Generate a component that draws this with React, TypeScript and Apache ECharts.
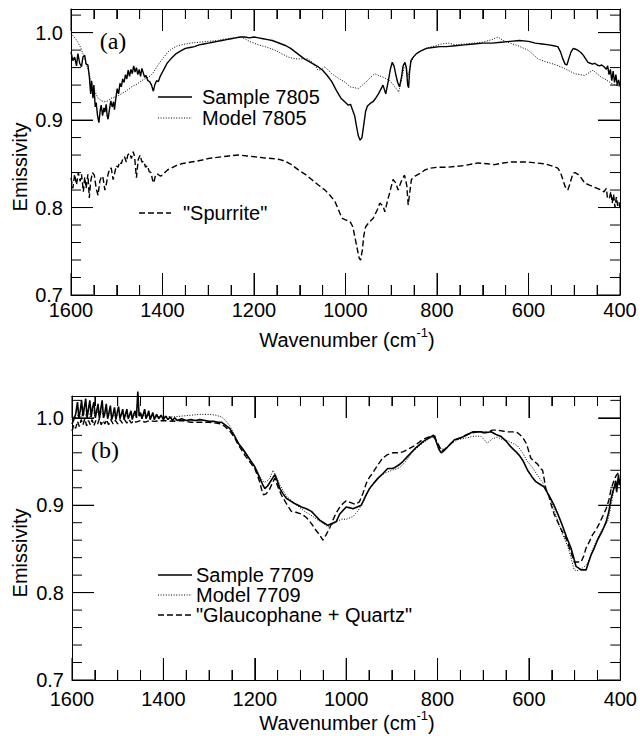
import React, { useEffect, useRef } from 'react';
import * as echarts from 'echarts';

const FONT = '"Liberation Sans", Arial, Helvetica, sans-serif';
const SERIF = '"Liberation Serif", "Times New Roman", serif';

// axes (wavenumber in cm-1, emissivity)
const xMin = 400;
const xMax = 1600;
const xMajorStep = 200;
const xMinorSplit = 4;
const xMajorTicks = [400, 600, 800, 1000, 1200, 1400, 1600];
const xMinorTicks = [450, 500, 550, 650, 700, 750, 850, 900, 950, 1050, 1100, 1150, 1250, 1300, 1350, 1450, 1500, 1550];
const yMin = 0.7;
const yMajorStep = 0.1;
const yMajorTicks = [0.7, 0.8, 0.9, 1.0];
const yMinorTicks = [0.72, 0.74, 0.76, 0.78, 0.82, 0.84, 0.86, 0.88, 0.92, 0.94, 0.96, 0.98, 1.02];
const yMaxA = 1.027;
const yMaxB = 1.025;

// Panel (a)
const sample7805: [number, number][] = [
  [1600,0.978],[1596,0.968],[1592,0.972],[1588,0.962],[1585,0.976],[1581,0.965],[1577,0.961],[1574,0.972],[1570,0.974],[1567,0.964],[1563,0.963],[1560,0.950],[1557,0.930],[1555,0.945],[1552,0.925],[1550,0.940],[1547,0.915],[1545,0.920],[1542,0.905],[1539,0.897],[1536,0.912],[1534,0.917],[1531,0.905],[1528,0.914],[1526,0.909],[1523,0.918],[1521,0.905],[1519,0.901],[1516,0.912],[1513,0.922],[1510,0.915],[1507,0.921],[1505,0.912],[1502,0.925],[1499,0.936],[1496,0.930],[1493,0.942],[1490,0.938],[1487,0.947],[1484,0.943],[1481,0.952],[1478,0.947],[1475,0.957],[1472,0.950],[1469,0.958],[1466,0.953],[1463,0.962],[1460,0.955],[1457,0.960],[1454,0.952],[1451,0.958],[1448,0.950],[1445,0.959],[1442,0.954],[1439,0.949],[1436,0.951],[1432,0.945],[1428,0.944],[1424,0.940],[1420,0.933],[1417,0.940],[1413,0.945],[1409,0.944],[1405,0.950],[1400,0.955],[1395,0.960],[1390,0.965],[1385,0.968],[1380,0.971],[1370,0.976],[1360,0.979],[1350,0.982],[1340,0.983],[1330,0.984],[1320,0.986],[1310,0.987],[1300,0.988],[1290,0.989],[1280,0.990],[1270,0.991],[1260,0.992],[1250,0.993],[1240,0.994],[1230,0.995],[1220,0.995],[1210,0.994],[1200,0.995],[1190,0.994],[1180,0.993],[1170,0.992],[1160,0.991],[1150,0.989],[1140,0.987],[1130,0.985],[1120,0.982],[1110,0.978],[1100,0.974],[1090,0.970],[1080,0.967],[1070,0.964],[1060,0.961],[1050,0.957],[1040,0.951],[1030,0.944],[1020,0.934],[1010,0.925],[1000,0.920],[994,0.917],[989,0.918],[985,0.912],[980,0.905],[976,0.893],[972,0.882],[968,0.877],[964,0.880],[960,0.895],[956,0.910],[952,0.916],[946,0.919],[940,0.921],[934,0.925],[928,0.930],[922,0.936],[918,0.940],[915,0.935],[912,0.930],[909,0.938],[906,0.946],[902,0.958],[898,0.966],[894,0.962],[890,0.952],[886,0.943],[882,0.938],[878,0.948],[874,0.962],[870,0.966],[867,0.960],[864,0.940],[862,0.937],[860,0.955],[857,0.968],[852,0.972],[845,0.976],[835,0.979],[823,0.982],[810,0.983],[794,0.984],[780,0.984],[760,0.985],[740,0.986],[720,0.987],[700,0.988],[680,0.988],[660,0.989],[640,0.990],[620,0.991],[600,0.990],[585,0.988],[570,0.987],[555,0.986],[545,0.985],[536,0.984],[530,0.978],[525,0.970],[520,0.964],[516,0.963],[512,0.970],[507,0.978],[502,0.982],[497,0.981],[490,0.979],[485,0.977],[480,0.974],[475,0.970],[470,0.966],[465,0.965],[460,0.964],[455,0.965],[450,0.963],[445,0.962],[440,0.963],[435,0.961],[430,0.958],[427,0.962],[424,0.952],[421,0.958],[418,0.945],[415,0.956],[412,0.943],[409,0.952],[406,0.940],[403,0.946],[400,0.939]
];
const model7805: [number, number][] = [
  [1600,0.999],[1590,0.993],[1585,0.989],[1578,0.982],[1570,0.970],[1563,0.958],[1556,0.944],[1548,0.933],[1541,0.925],[1533,0.922],[1526,0.921],[1519,0.922],[1512,0.925],[1500,0.927],[1490,0.930],[1480,0.933],[1468,0.938],[1456,0.941],[1446,0.945],[1435,0.948],[1425,0.951],[1418,0.956],[1410,0.963],[1400,0.970],[1388,0.978],[1378,0.982],[1367,0.985],[1350,0.987],[1338,0.988],[1320,0.989],[1300,0.990],[1280,0.991],[1260,0.993],[1240,0.994],[1230,0.995],[1220,0.993],[1210,0.990],[1200,0.988],[1190,0.986],[1183,0.985],[1170,0.983],[1154,0.980],[1140,0.976],[1125,0.972],[1110,0.970],[1095,0.970],[1082,0.970],[1070,0.965],[1060,0.957],[1052,0.958],[1045,0.961],[1030,0.953],[1016,0.948],[1000,0.943],[990,0.938],[980,0.937],[972,0.936],[963,0.940],[954,0.944],[945,0.949],[936,0.953],[928,0.951],[918,0.949],[910,0.947],[903,0.945],[895,0.940],[888,0.935],[884,0.932],[880,0.940],[876,0.950],[872,0.960],[868,0.962],[864,0.950],[861,0.955],[857,0.966],[850,0.973],[840,0.978],[825,0.982],[810,0.984],[790,0.987],[775,0.988],[760,0.986],[740,0.987],[720,0.988],[700,0.989],[680,0.992],[667,0.995],[655,0.991],[640,0.988],[623,0.985],[610,0.982],[601,0.980],[590,0.975],[579,0.970],[565,0.967],[551,0.965],[535,0.962],[521,0.959],[510,0.956],[499,0.953],[488,0.952],[477,0.951],[468,0.954],[459,0.957],[450,0.953],[441,0.949],[430,0.946],[419,0.942],[410,0.940],[400,0.938]
];
const spurrite: [number, number][] = [
  [1600,0.834],[1596,0.822],[1592,0.838],[1588,0.826],[1584,0.840],[1580,0.830],[1577,0.838],[1573,0.818],[1570,0.835],[1567,0.822],[1563,0.838],[1560,0.811],[1557,0.830],[1553,0.840],[1549,0.837],[1545,0.822],[1541,0.814],[1537,0.830],[1533,0.836],[1530,0.834],[1526,0.820],[1523,0.826],[1519,0.838],[1515,0.845],[1512,0.845],[1508,0.832],[1505,0.838],[1501,0.848],[1497,0.846],[1494,0.852],[1490,0.850],[1486,0.857],[1483,0.858],[1479,0.852],[1476,0.860],[1472,0.862],[1468,0.856],[1464,0.864],[1461,0.858],[1457,0.834],[1453,0.855],[1449,0.860],[1445,0.852],[1441,0.853],[1437,0.846],[1433,0.848],[1429,0.841],[1425,0.840],[1422,0.832],[1419,0.828],[1415,0.838],[1410,0.838],[1405,0.836],[1400,0.837],[1395,0.840],[1389,0.843],[1381,0.845],[1370,0.848],[1359,0.850],[1348,0.851],[1337,0.852],[1326,0.853],[1316,0.854],[1300,0.856],[1285,0.857],[1271,0.858],[1255,0.859],[1234,0.860],[1215,0.859],[1198,0.858],[1180,0.857],[1161,0.856],[1145,0.855],[1132,0.853],[1118,0.849],[1103,0.843],[1088,0.838],[1074,0.832],[1060,0.826],[1045,0.820],[1034,0.814],[1023,0.807],[1015,0.797],[1008,0.788],[1000,0.786],[990,0.784],[984,0.778],[979,0.765],[974,0.752],[970,0.742],[967,0.740],[963,0.752],[960,0.768],[956,0.778],[950,0.782],[939,0.788],[930,0.798],[925,0.805],[918,0.802],[914,0.795],[908,0.808],[903,0.818],[896,0.832],[890,0.828],[885,0.820],[878,0.830],[871,0.837],[866,0.825],[863,0.803],[860,0.815],[856,0.832],[848,0.836],[837,0.839],[826,0.843],[815,0.845],[800,0.846],[778,0.846],[760,0.847],[740,0.848],[721,0.850],[710,0.851],[690,0.850],[674,0.849],[655,0.851],[638,0.852],[620,0.852],[601,0.852],[585,0.851],[565,0.850],[545,0.847],[536,0.845],[530,0.840],[525,0.832],[520,0.824],[514,0.820],[509,0.828],[503,0.839],[498,0.840],[492,0.838],[485,0.834],[477,0.828],[468,0.826],[459,0.824],[450,0.822],[441,0.820],[435,0.818],[430,0.822],[427,0.810],[423,0.811],[420,0.818],[417,0.805],[414,0.815],[411,0.800],[408,0.812],[405,0.802],[402,0.806],[400,0.799]
];

// Panel (b)
const sample7709: [number, number][] = [
  [1600,0.993],[1596,0.998],[1592,1.004],[1588,1.018],[1585,1.000],[1582,1.008],[1579,1.020],[1576,1.002],[1573,1.012],[1570,1.022],[1567,1.000],[1564,1.010],[1561,1.020],[1558,1.001],[1555,1.012],[1552,1.018],[1549,1.000],[1546,1.008],[1543,1.016],[1540,0.999],[1537,1.010],[1534,1.020],[1531,1.000],[1528,1.006],[1525,1.016],[1522,0.999],[1519,1.006],[1516,1.014],[1513,0.998],[1510,1.004],[1507,1.012],[1504,0.998],[1501,1.006],[1498,1.013],[1495,0.999],[1492,1.004],[1489,1.010],[1486,0.998],[1483,1.004],[1480,1.010],[1477,0.999],[1474,1.003],[1471,1.008],[1468,0.998],[1465,1.004],[1462,1.008],[1459,1.000],[1456,1.030],[1453,1.002],[1450,1.006],[1447,0.999],[1444,1.004],[1441,1.010],[1438,0.999],[1435,1.003],[1432,1.008],[1429,0.998],[1426,1.002],[1423,1.006],[1420,0.998],[1415,1.004],[1410,0.999],[1405,1.003],[1400,0.998],[1395,1.002],[1390,0.998],[1385,1.001],[1380,0.997],[1375,1.000],[1370,0.997],[1360,0.999],[1350,0.997],[1340,0.998],[1330,0.997],[1320,0.998],[1309,0.997],[1300,0.996],[1290,0.996],[1280,0.995],[1273,0.995],[1265,0.992],[1255,0.988],[1245,0.980],[1236,0.971],[1227,0.965],[1218,0.958],[1209,0.951],[1200,0.944],[1194,0.937],[1189,0.931],[1183,0.924],[1178,0.919],[1172,0.922],[1167,0.926],[1161,0.931],[1156,0.935],[1150,0.927],[1145,0.919],[1138,0.913],[1131,0.908],[1122,0.905],[1113,0.902],[1105,0.900],[1098,0.898],[1087,0.896],[1076,0.893],[1067,0.888],[1058,0.883],[1049,0.880],[1040,0.877],[1031,0.879],[1022,0.881],[1014,0.890],[1007,0.894],[1000,0.898],[992,0.897],[985,0.896],[976,0.898],[967,0.900],[958,0.910],[949,0.919],[940,0.925],[930,0.931],[920,0.936],[909,0.942],[900,0.942],[894,0.943],[885,0.946],[876,0.950],[867,0.955],[858,0.960],[849,0.965],[840,0.969],[831,0.973],[822,0.976],[815,0.978],[810,0.980],[806,0.979],[803,0.973],[797,0.964],[792,0.960],[787,0.962],[781,0.965],[772,0.970],[763,0.975],[750,0.977],[737,0.980],[730,0.982],[723,0.984],[715,0.984],[705,0.984],[695,0.983],[683,0.984],[672,0.981],[662,0.979],[651,0.974],[640,0.967],[630,0.962],[621,0.957],[612,0.950],[603,0.940],[594,0.933],[585,0.927],[576,0.924],[567,0.921],[556,0.911],[545,0.900],[536,0.889],[527,0.877],[518,0.864],[508,0.851],[502,0.840],[497,0.830],[491,0.828],[486,0.826],[480,0.826],[475,0.826],[470,0.834],[464,0.843],[457,0.851],[450,0.860],[440,0.870],[431,0.881],[425,0.893],[420,0.908],[416,0.916],[413,0.921],[410,0.928],[408,0.915],[406,0.925],[404,0.935],[402,0.923],[400,0.930]
];
const model7709: [number, number][] = [
  [1600,0.998],[1595,1.002],[1590,0.999],[1585,1.006],[1580,1.001],[1575,1.008],[1570,1.002],[1565,1.009],[1560,1.001],[1555,1.010],[1550,1.002],[1545,1.008],[1540,1.001],[1535,1.007],[1530,1.001],[1525,1.006],[1520,1.002],[1515,1.006],[1510,1.001],[1505,1.005],[1500,1.002],[1490,1.004],[1480,1.002],[1470,1.004],[1460,1.002],[1450,1.004],[1440,1.002],[1430,1.003],[1420,1.001],[1400,1.002],[1380,1.001],[1360,1.002],[1340,1.003],[1320,1.004],[1300,1.004],[1285,1.003],[1273,1.001],[1264,0.997],[1255,0.991],[1245,0.981],[1236,0.971],[1220,0.958],[1200,0.944],[1189,0.933],[1180,0.926],[1172,0.928],[1167,0.931],[1160,0.940],[1155,0.935],[1145,0.923],[1130,0.910],[1113,0.902],[1091,0.893],[1075,0.888],[1062,0.883],[1050,0.879],[1040,0.875],[1030,0.878],[1022,0.881],[1010,0.884],[999,0.884],[990,0.886],[985,0.887],[975,0.893],[963,0.903],[955,0.912],[945,0.922],[930,0.932],[914,0.937],[900,0.940],[883,0.943],[870,0.950],[856,0.960],[842,0.967],[828,0.973],[815,0.977],[808,0.979],[800,0.970],[790,0.964],[780,0.966],[770,0.971],[755,0.975],[737,0.977],[720,0.979],[705,0.979],[691,0.971],[680,0.976],[669,0.978],[658,0.975],[647,0.974],[636,0.971],[625,0.968],[614,0.960],[603,0.950],[592,0.943],[581,0.934],[570,0.926],[560,0.915],[548,0.900],[537,0.882],[526,0.866],[515,0.853],[508,0.840],[501,0.826],[495,0.825],[490,0.826],[480,0.829],[471,0.834],[461,0.849],[450,0.862],[440,0.872],[428,0.881],[420,0.900],[413,0.921],[406,0.925],[400,0.926]
];
const glaucoQuartz: [number, number][] = [
  [1600,0.985],[1596,0.992],[1592,0.988],[1588,0.996],[1584,0.990],[1580,0.998],[1576,0.992],[1572,0.999],[1568,0.991],[1564,0.997],[1560,0.992],[1556,0.998],[1552,0.991],[1548,0.997],[1544,0.993],[1540,0.999],[1536,0.992],[1532,0.997],[1528,0.993],[1524,0.998],[1520,0.992],[1515,0.998],[1510,0.993],[1505,0.997],[1500,0.993],[1495,0.998],[1490,0.994],[1485,0.998],[1480,0.994],[1475,0.998],[1470,0.994],[1465,0.997],[1460,0.995],[1450,0.997],[1440,0.995],[1430,0.997],[1420,0.996],[1400,0.997],[1380,0.996],[1360,0.997],[1340,0.995],[1320,0.995],[1300,0.995],[1285,0.994],[1273,0.993],[1263,0.989],[1255,0.985],[1245,0.978],[1236,0.969],[1220,0.956],[1200,0.942],[1190,0.928],[1185,0.918],[1181,0.912],[1175,0.913],[1167,0.919],[1161,0.926],[1156,0.931],[1150,0.922],[1142,0.912],[1131,0.902],[1120,0.893],[1110,0.892],[1098,0.890],[1087,0.886],[1076,0.879],[1067,0.872],[1058,0.866],[1051,0.860],[1044,0.866],[1036,0.874],[1029,0.883],[1022,0.891],[1015,0.897],[1007,0.902],[1000,0.905],[990,0.903],[980,0.901],[971,0.904],[963,0.914],[956,0.925],[949,0.932],[942,0.937],[931,0.946],[920,0.954],[909,0.958],[898,0.960],[887,0.960],[876,0.961],[865,0.964],[854,0.967],[843,0.971],[833,0.975],[824,0.977],[815,0.979],[808,0.978],[800,0.972],[792,0.962],[787,0.963],[779,0.966],[770,0.971],[760,0.975],[747,0.978],[735,0.981],[723,0.983],[712,0.984],[700,0.983],[690,0.984],[680,0.986],[669,0.986],[658,0.985],[647,0.984],[636,0.984],[625,0.983],[614,0.978],[605,0.970],[596,0.954],[588,0.950],[581,0.947],[575,0.942],[570,0.940],[563,0.919],[556,0.910],[552,0.902],[545,0.890],[537,0.881],[530,0.873],[523,0.866],[517,0.860],[512,0.852],[506,0.843],[501,0.835],[494,0.835],[486,0.835],[480,0.842],[475,0.851],[468,0.858],[461,0.866],[453,0.872],[446,0.879],[438,0.888],[431,0.896],[425,0.906],[420,0.919],[414,0.928],[409,0.934],[404,0.937],[400,0.937]
];

const BLACK = '#000';
const MAJOR_LEN = 22;
const MINOR_LEN = 10;

function makeXAxes(labelMargin: number) {
  const base = {
    type: 'value', min: xMin, max: xMax, interval: xMajorStep, inverse: true,
    splitLine: { show: false },
    axisLine: { show: true, onZero: false, lineStyle: { color: BLACK, width: 1 } },
    axisTick: { show: true, inside: true, length: MAJOR_LEN, lineStyle: { color: BLACK, width: 1 } },
    minorTick: { show: true, splitNumber: xMinorSplit, length: MINOR_LEN, lineStyle: { color: BLACK, width: 1 } },
  };
  return [
    { ...base, position: 'bottom', axisLabel: { show: true, margin: labelMargin, fontSize: 20, fontFamily: FONT, color: BLACK, formatter: (v: number) => String(v) } },
    { ...base, position: 'top', axisLabel: { show: false } },
  ];
}

const isMajorY = (v: number) => Math.abs(v * 10 - Math.round(v * 10)) < 1e-6;

function makeYAxes(yMax: number) {
  const base = {
    type: 'value', min: yMin, max: yMax,
    splitLine: { show: false },
    axisLine: { show: true, onZero: false, lineStyle: { color: BLACK, width: 1 } },
    axisTick: { show: true, inside: true, length: MAJOR_LEN, lineStyle: { color: BLACK, width: 1 } },
  };
  return [
    { ...base, position: 'left', interval: yMajorStep,
      axisLabel: { show: true, margin: 8, fontSize: 20, fontFamily: FONT, color: BLACK, formatter: (v: number) => (isMajorY(v) ? v.toFixed(1) : '') } },
    { ...base, position: 'right', interval: yMajorStep, axisLabel: { show: false } },
  ];
}

// inward ticks on all four sides, drawn as short line series through the axes' scales
function tickSeries(yMax: number, gridW: number, gridH: number) {
  const dyPerPx = (yMax - yMin) / gridH;
  const dxPerPx = (xMax - xMin) / gridW;
  const segs: [number, number][][] = [];
  const xTick = (v: number, len: number) => {
    segs.push([[v, yMin], [v, yMin + len * dyPerPx]]);
    segs.push([[v, yMax], [v, yMax - len * dyPerPx]]);
  };
  const yTick = (v: number, len: number) => {
    segs.push([[xMax, v], [xMax - len * dxPerPx, v]]);
    segs.push([[xMin, v], [xMin + len * dxPerPx, v]]);
  };
  xMajorTicks.forEach((v) => xTick(v, MAJOR_LEN));
  xMinorTicks.forEach((v) => xTick(v, MINOR_LEN));
  yMajorTicks.forEach((v) => yTick(v, MAJOR_LEN));
  yMinorTicks.forEach((v) => yTick(v, MINOR_LEN));
  return segs.map((d) => ({
    type: 'line', xAxisIndex: 0, yAxisIndex: 0, data: d,
    showSymbol: false, symbol: 'none', silent: true, clip: false,
    lineStyle: { color: BLACK, width: 1 },
    z: 4,
  }));
}

function lineSeries(name: string, data: [number, number][], kind: 'solid' | 'dotted' | 'dashed', width: number, clip = true) {
  return {
    name, type: 'line', xAxisIndex: 0, yAxisIndex: 0, data,
    showSymbol: false, symbol: 'none', silent: true, clip,
    lineStyle: {
      color: BLACK, width,
      type: kind === 'solid' ? 'solid' : kind === 'dotted' ? [1, 1.6] : [6, 3],
    },
  };
}

function legendLine(x1: number, x2: number, y: number, kind: 'solid' | 'dotted' | 'dashed') {
  const style: any = { stroke: BLACK, lineWidth: kind === 'dotted' ? 1 : 1.5 };
  if (kind !== 'solid') style.lineDash = kind === 'dotted' ? [1, 1.6] : [6, 3];
  return { type: 'line', silent: true, shape: { x1, y1: y, x2, y2: y }, style };
}

function label(text: string, x: number, y: number, opts: any = {}) {
  const { style, ...rest } = opts;
  return {
    type: 'text', silent: true, x, y, ...rest,
    style: { text, fill: BLACK, fontSize: 20, fontFamily: FONT, verticalAlign: 'middle', align: 'left', ...(style || {}) },
  };
}

function xTitle(cx: number, cy: number) {
  return {
    type: 'text', silent: true, x: cx, y: cy,
    style: {
      text: '{a|Wavenumber (cm}{s|-1}{a|)}',
      fill: BLACK, align: 'center', verticalAlign: 'middle',
      rich: {
        a: { fontSize: 20, fontFamily: FONT, fill: BLACK, lineHeight: 24, verticalAlign: 'bottom' },
        s: { fontSize: 13, fontFamily: FONT, fill: BLACK, verticalAlign: 'top' },
      },
    },
  };
}

const GRID_A = { left: 71, top: 9, width: 549, height: 286 };
const GRID_B = { left: 72, top: 28, width: 549, height: 284 };

// each panel is its own chart instance (top half and bottom half of the page)
const optionA: any = {
  animation: false,
  grid: [GRID_A],
  xAxis: makeXAxes(5),
  yAxis: makeYAxes(yMaxA),
  series: [
    lineSeries('Model 7805', model7805, 'dotted', 1),
    lineSeries('"Spurrite"', spurrite, 'dashed', 1.4),
    lineSeries('Sample 7805', sample7805, 'solid', 1.4),
    ...tickSeries(yMaxA, GRID_A.width, GRID_A.height),
  ],
  graphic: [
    label('(a)', 113, 41, { style: { fontFamily: SERIF, fontSize: 24, align: 'center' } }),
    legendLine(158, 192, 97, 'solid'),
    label('Sample 7805', 202, 97),
    legendLine(158, 192, 118, 'dotted'),
    label('Model 7805', 202, 118),
    legendLine(139, 171, 213, 'dashed'),
    label('"Spurrite"', 183, 213),
    label('Emissivity', 20, 167, { rotation: Math.PI / 2, style: { align: 'center' } }),
    xTitle(347, 338),
  ],
};

const optionB: any = {
  animation: false,
  grid: [GRID_B],
  xAxis: makeXAxes(9),
  yAxis: makeYAxes(yMaxB),
  series: [
    lineSeries('Model 7709', model7709, 'dotted', 1),
    lineSeries('"Glaucophane + Quartz"', glaucoQuartz, 'dashed', 1.4),
    lineSeries('Sample 7709', sample7709, 'solid', 1.6, false),
    ...tickSeries(yMaxB, GRID_B.width, GRID_B.height),
  ],
  graphic: [
    label('(b)', 105, 82, { style: { fontFamily: SERIF, fontSize: 24, align: 'center' } }),
    legendLine(158, 192, 207, 'solid'),
    label('Sample 7709', 196, 207),
    legendLine(158, 192, 227, 'dotted'),
    label('Model 7709', 196, 227),
    legendLine(158, 192, 247, 'dashed'),
    label('"Glaucophane + Quartz"', 196, 247),
    label('Emissivity', 20, 185, { rotation: Math.PI / 2, style: { align: 'center' } }),
    xTitle(347, 353),
  ],
};

function Panel({ option }: { option: any }) {
  const ref = useRef<HTMLDivElement>(null);
  useEffect(() => {
    const chart = echarts.init(ref.current as HTMLDivElement, null, { renderer: 'svg' });
    chart.setOption(option);
    return () => chart.dispose();
  }, [option]);
  return <div ref={ref} style={{ width: 640, height: 368 }} />;
}

export default function App() {
  useEffect(() => {
    document.body.style.margin = '0';
  }, []);
  return (
    <div style={{ width: 640, height: 736, background: '#fff' }}>
      <Panel option={optionA} />
      <Panel option={optionB} />
    </div>
  );
}
